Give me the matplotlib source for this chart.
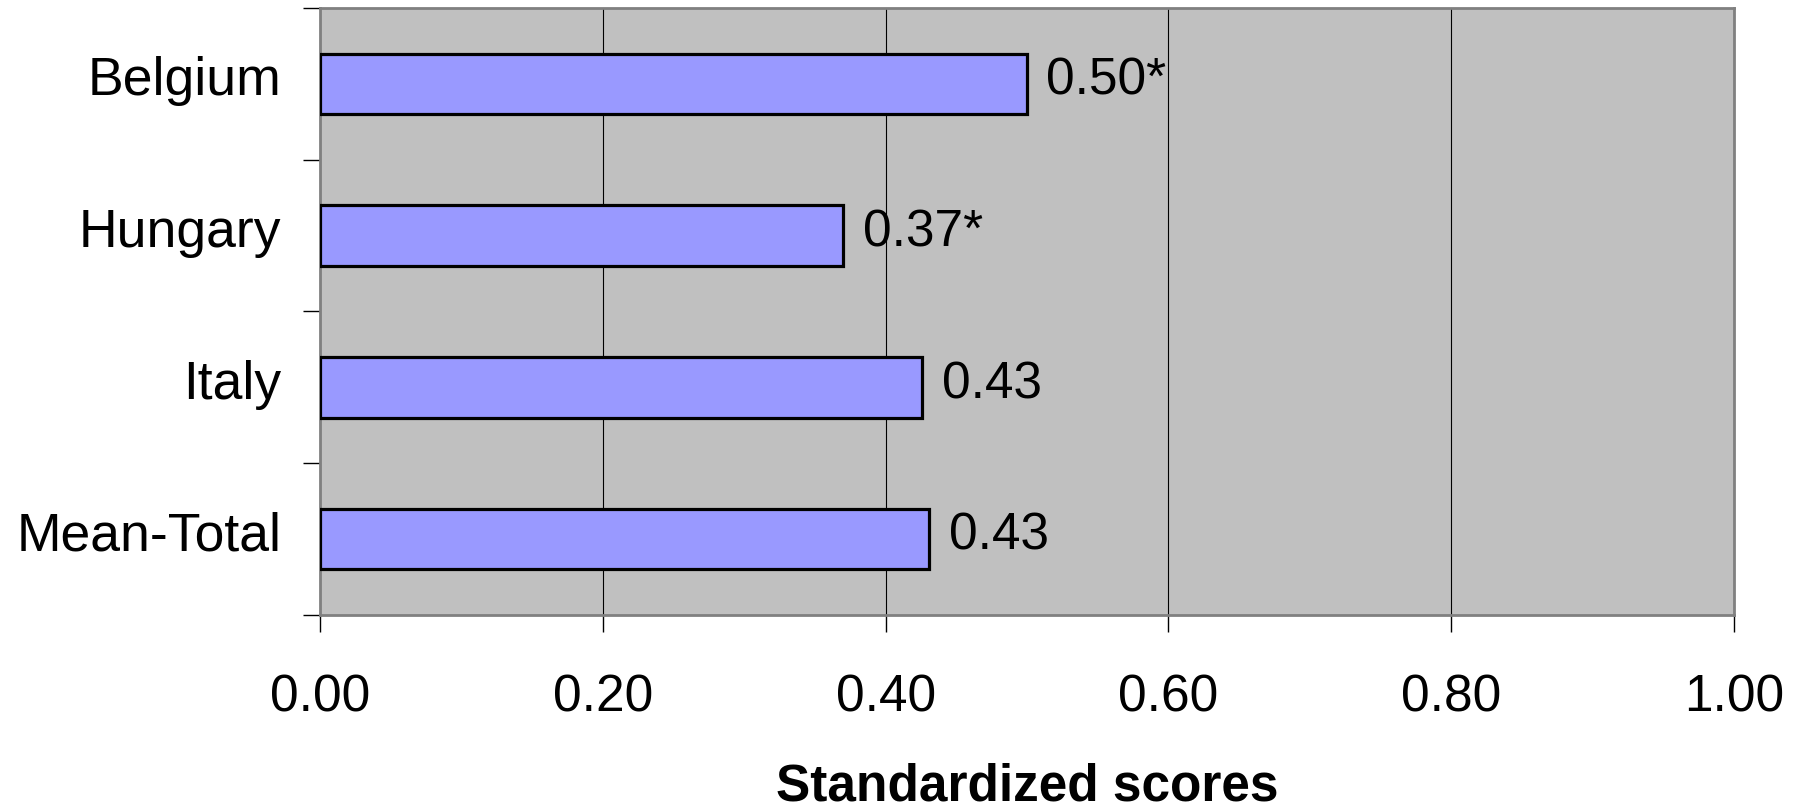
import numpy as np
import matplotlib
matplotlib.use("Agg")
import matplotlib.pyplot as plt
import matplotlib.transforms as mtransforms

countries = ["Belgium", "Hungary", "Italy", "Mean-Total"]
scores = [0.50, 0.37, 0.426, 0.431]
significant = [True, True, False, False]
x_ticks = [0.0, 0.2, 0.4, 0.6, 0.8, 1.0]

plt.rcParams['font.family'] = ['Liberation Sans', 'DejaVu Sans']

fig = plt.figure(figsize=(18.03, 8.08), dpi=100)
ax = fig.add_axes([0.1775, 0.239, 0.7842, 0.751])
ax.set_facecolor('#C0C0C0')

y = np.arange(len(countries))
ax.barh(y, scores, height=0.4, color='#9999FF', edgecolor='black', linewidth=2.3, zorder=3)

for yi, v, sig in zip(y, scores, significant):
    label = f"{v:.2f}" + ("*" if sig else "")
    ax.annotate(label, (v, yi), xytext=(14, 2), textcoords='offset points',
                va='center', ha='left', fontsize=37, zorder=4)

ax.set_xlim(0, 1.0)
ax.set_ylim(len(countries) - 0.5, -0.5)

ax.set_xticks(x_ticks)
ax.set_xticklabels([f"{t:.2f}" for t in x_ticks], fontsize=37)
ax.tick_params(axis='x', direction='out', length=12, width=1, pad=30)

ax.set_yticks(y)
ax.set_yticklabels(countries, fontsize=38.5)
ax.tick_params(axis='y', which='major', length=0, pad=28)
# nudge category names up a little
shift = mtransforms.ScaledTranslation(0, 6 / 72, fig.dpi_scale_trans)
for lbl in ax.get_yticklabels():
    lbl.set_transform(lbl.get_transform() + shift)
ax.set_yticks(np.arange(len(countries) + 1) - 0.5, minor=True)
ax.tick_params(axis='y', which='minor', direction='out', length=12, width=1)

ax.grid(axis='x', color='black', linewidth=0.8, zorder=1)
ax.set_axisbelow(True)
for s in ax.spines.values():
    s.set_color('#808080')
    s.set_linewidth(2)

ax.set_xlabel("Standardized scores", fontsize=37, fontweight='bold', labelpad=29)

fig.savefig("out.png", dpi=100)
